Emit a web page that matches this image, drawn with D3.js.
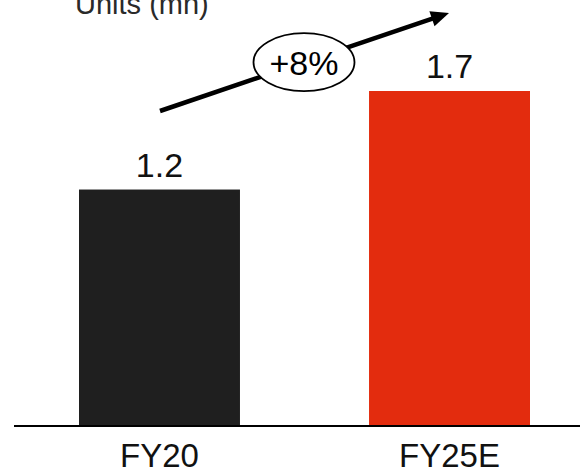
<!DOCTYPE html>
<html>
<head>
<meta charset="utf-8">
<script src="https://cdn.jsdelivr.net/npm/d3@7"></script>
<style>
  html, body { margin: 0; padding: 0; background: #fff; }
  svg { display: block; }
  text { font-family: "Liberation Sans", Arial, sans-serif; }
</style>
</head>
<body>
<svg id="chart" width="580" height="473"></svg>
<script>
const categories = ["FY20", "FY25E"];
const values = [1.2, 1.7];
const valueLabels = ["1.2", "1.7"];
const colors = ["#1f1f1f", "#e32c0e"];
const unitLabel = "Units (mn)";
const growthLabel = "+8%";

const W = 580, H = 473;
const baseY = 426, topY = 91;
const svg = d3.select("#chart");

const x = d3.scaleBand()
  .domain(categories)
  .range([21, 588])
  .paddingInner(0.445)
  .paddingOuter(0.2);

const y = d3.scaleLinear()
  .domain([0, d3.max(values)])
  .range([baseY, topY]);

const data = categories.map((c, i) => ({ c, v: values[i], label: valueLabels[i], color: colors[i] }));

// bars
svg.selectAll("rect.bar").data(data).enter().append("rect")
  .attr("class", "bar")
  .attr("x", d => x(d.c))
  .attr("y", d => y(d.v))
  .attr("width", x.bandwidth())
  .attr("height", d => y(0) - y(d.v))
  .attr("fill", d => d.color);

// value labels
svg.selectAll("text.val").data(data).enter().append("text")
  .attr("class", "val")
  .attr("x", d => x(d.c) + x.bandwidth() / 2)
  .attr("y", d => y(d.v) - 13)
  .attr("text-anchor", "middle")
  .attr("font-size", 34)
  .attr("fill", "#111")
  .text(d => d.label);

// x axis
const axis = svg.append("g")
  .attr("transform", `translate(0,${baseY})`)
  .call(d3.axisBottom(x).tickSize(0).tickPadding(18));
axis.select(".domain").remove();
axis.append("line")
  .attr("x1", 14).attr("x2", W)
  .attr("y1", 0).attr("y2", 0)
  .attr("stroke", "#000").attr("stroke-width", 2);
axis.selectAll(".tick text")
  .attr("font-size", 33)
  .attr("font-family", "'Liberation Sans', Arial, sans-serif")
  .attr("fill", "#111")
  .attr("dy", "0.71em");

// unit label
svg.append("text")
  .attr("x", 75).attr("y", 14)
  .attr("font-size", 29)
  .attr("fill", "#2a2a2a")
  .text(unitLabel);

// growth arrow
const x0 = 160, y0 = 111, x1 = 449, y1 = 13;
const ang = Math.atan2(y1 - y0, x1 - x0);
const headLen = 18, headHalf = 8;
const bx = x1 - headLen * Math.cos(ang), by = y1 - headLen * Math.sin(ang);
svg.append("line")
  .attr("x1", x0).attr("y1", y0)
  .attr("x2", bx + 2 * Math.cos(ang)).attr("y2", by + 2 * Math.sin(ang))
  .attr("stroke", "#000").attr("stroke-width", 4.5);
svg.append("path")
  .attr("d", d3.line()([
    [x1, y1],
    [bx + headHalf * Math.sin(ang), by - headHalf * Math.cos(ang)],
    [bx - headHalf * Math.sin(ang), by + headHalf * Math.cos(ang)]
  ]) + "Z")
  .attr("fill", "#000");

const cx = 304, cy = y0 + (y1 - y0) * (cx - x0) / (x1 - x0);
svg.append("ellipse")
  .attr("cx", cx).attr("cy", cy)
  .attr("rx", 50.5).attr("ry", 29)
  .attr("fill", "#fff").attr("stroke", "#000").attr("stroke-width", 1.8);
svg.append("text")
  .attr("x", cx).attr("y", cy + 12.5)
  .attr("text-anchor", "middle")
  .attr("font-size", 34)
  .attr("fill", "#000")
  .text(growthLabel);
</script>
</body>
</html>
